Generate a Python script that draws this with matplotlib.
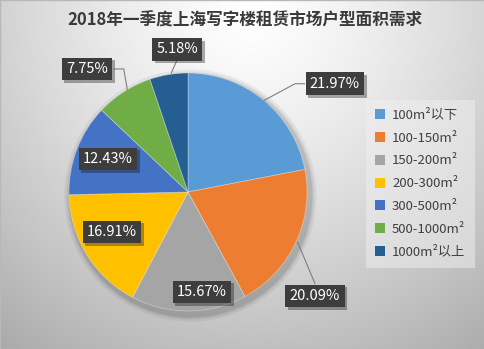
import numpy as np
import matplotlib.pyplot as plt
from matplotlib.patches import Circle, Patch
import matplotlib.patheffects as pe

plt.rcParams['font.family'] = ['Noto Sans CJK SC', 'DejaVu Sans']

title = '2018年一季度上海写字楼租赁市场户型面积需求'
categories = ['100m²以下', '100-150m²', '150-200m²', '200-300m²',
              '300-500m²', '500-1000m²', '1000m²以上']
shares = [21.97, 20.09, 15.67, 16.91, 12.43, 7.75, 5.18]
colors = ['#5b9bd5', '#ed7d31', '#a5a5a5', '#ffc000',
          '#4472c4', '#70ad47', '#255e91']

# label box centres and leader lines, in pie units (radius = 1)
label_xy = [(1.235, 0.91), (1.067, -0.874), (0.118, -0.84), (-0.639, -0.336),
            (-0.672, 0.277), (-0.849, 1.034), (-0.092, 1.20)]
leaders = {0: [(0.98, 0.91), (0.90, 0.91), (0.64, 0.77)],
           1: [(1.067, -0.77), (0.92, -0.42)],
           5: [(-0.62, 1.034), (-0.54, 1.034), (-0.51, 0.86)],
           6: [(-0.092, 1.11), (-0.14, 1.0)]}

W, H = 485, 349
fig = plt.figure(figsize=(W / 100, H / 100), dpi=100)

# soft grey background, brightest near the top centre
bg = fig.add_axes([0, 0, 1, 1])
yy, xx = np.mgrid[0:H, 0:W]
d = np.sqrt(((xx - 250) / 320.0) ** 2 + ((yy - 10) / 330.0) ** 2)
shade = np.clip(1.0 - 0.24 * d ** 1.3, 0, 1)
bg.imshow(np.dstack([shade] * 3), extent=[0, 1, 0, 1], aspect='auto', zorder=0)
bg.set_xlim(0, 1)
bg.set_ylim(0, 1)
bg.axis('off')
bg.add_patch(plt.Rectangle((0.001, 0.001), 0.998, 0.998, fill=False,
                           ec='#b8b8b8', lw=1))

fig.text(0.505, 0.94, title, ha='center', va='center', fontsize=12,
         fontweight='bold', color='#3a3a3a')

cx, cy, r = 188, 192, 119
ax = fig.add_axes([(cx - 1.5 * r) / W, (H - cy - 1.5 * r) / H, 3 * r / W, 3 * r / H])

# drop shadow under the pie
for k, a in [(0.06, 0.05), (0.04, 0.07), (0.025, 0.09)]:
    ax.add_patch(Circle((0.02, -0.03), 1 + k, color='black', alpha=a, lw=0))

wedges, _ = ax.pie(shares, colors=colors, startangle=90, counterclock=False,
                   radius=1, wedgeprops=dict(edgecolor=(1, 1, 1, 0.35), linewidth=0.6))
ax.set_xlim(-1.5, 1.5)
ax.set_ylim(-1.5, 1.5)
ax.axis('off')

for i, (x, y) in enumerate(label_xy):
    t = ax.text(x, y, f'{shares[i]:.2f}%', ha='center', va='center',
                fontsize=10.5, color='white', zorder=5,
                bbox=dict(boxstyle='square,pad=0.3', fc='#3d3d3d', ec='none'))
    t.get_bbox_patch().set_path_effects(
        [pe.SimplePatchShadow(offset=(2, -2), alpha=0.35), pe.Normal()])

for i, pts in leaders.items():
    px, py = zip(*pts)
    ax.plot(px, py, color='#7f7f7f', lw=0.8, zorder=4)

handles = [Patch(facecolor=c, edgecolor='none') for c in colors]
leg = fig.legend(handles, categories, loc='upper left',
                 bbox_to_anchor=(363 / W, 1 - 97 / H), frameon=True,
                 fontsize=9.5, labelspacing=0.74, handlelength=0.8,
                 handleheight=0.8, handletextpad=0.5, borderpad=0.4)
leg.get_frame().set_facecolor('#f0f0f0')
leg.get_frame().set_alpha(0.5)
leg.get_frame().set_edgecolor('none')
leg.get_frame().set_boxstyle('square')
for txt in leg.get_texts():
    txt.set_color('#404040')

fig.savefig('out.png', dpi=100)
